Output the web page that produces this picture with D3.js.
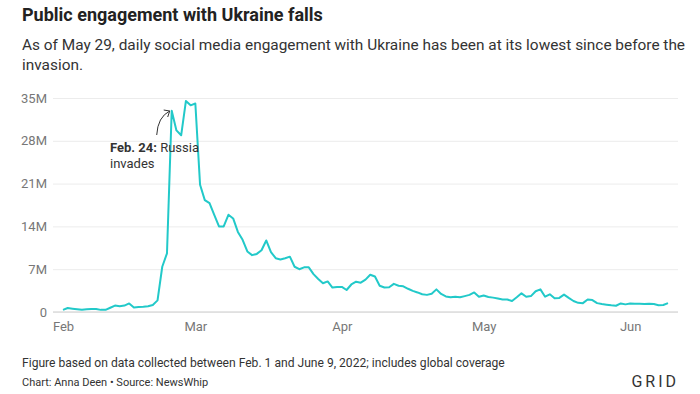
<!DOCTYPE html>
<html>
<head>
<meta charset="utf-8">
<script src="https://cdn.jsdelivr.net/npm/d3@7"></script>
<style>
  body { margin: 0; background: #fff; }
  svg { display: block; font-family: Roboto, "Noto Sans", sans-serif; }
</style>
</head>
<body>
<svg id="chart" width="700" height="394"></svg>
<script>
// daily social media engagement with Ukraine, millions, one value per day from Feb. 1
const startDate = "2022-02-01";
const engagement = [
  0.35, 0.65, 0.55, 0.45, 0.35, 0.45, 0.5, 0.5, 0.35, 0.35,      // Feb 1-10
  0.7, 1.05, 0.95, 1.05, 1.4, 0.75, 0.8, 0.85, 0.95, 1.15,       // Feb 11-20
  1.9, 7.4, 9.6, 32.9, 29.7, 28.9, 34.5, 33.8,                   // Feb 21-28
  34.1, 20.8, 18.3, 17.8, 15.9, 14.0, 14.0, 15.9, 15.3, 13.1,    // Mar 1-10
  11.8, 9.9, 9.3, 9.5, 10.1, 11.7, 9.8, 8.8, 8.6, 8.8,           // Mar 11-20
  9.05, 7.4, 7.0, 7.3, 7.3, 6.2, 5.4, 4.7, 5.0, 4.0, 4.1,        // Mar 21-31
  4.1, 3.6, 4.5, 4.95, 4.8, 5.3, 6.1, 5.8, 4.3, 4.0,             // Apr 1-10
  4.05, 4.6, 4.3, 4.2, 3.8, 3.45, 3.2, 2.9, 2.8, 3.0,            // Apr 11-20
  3.7, 2.95, 2.55, 2.4, 2.5, 2.4, 2.6, 2.8, 3.2, 2.5,            // Apr 21-30
  2.7, 2.45, 2.35, 2.2, 2.05, 2.05, 1.8, 2.4, 3.05, 2.5,         // May 1-10
  2.6, 3.4, 3.7, 2.5, 2.9, 2.25, 2.3, 2.85, 2.3, 1.8,            // May 11-20
  1.5, 1.45, 2.05, 1.95, 1.45, 1.3, 1.2, 1.1, 1.02, 1.4, 1.25,   // May 21-31
  1.4, 1.35, 1.35, 1.3, 1.35, 1.3, 1.1, 1.15, 1.45               // Jun 1-9
];
const yTicks = [0, 7, 14, 21, 28, 35];
const monthTicks = ["2022-02-01", "2022-03-01", "2022-04-01", "2022-05-01", "2022-06-01"];
const annotationDate = "2022-02-24";

const parse = d3.timeParse("%Y-%m-%d");
const start = parse(startDate);
const data = engagement.map((v, i) => ({ date: d3.timeDay.offset(start, i), value: v }));

const svg = d3.select("#chart");

const x = d3.scaleTime()
  .domain(d3.extent(data, d => d.date))
  .range([63, 668]);
const y = d3.scaleLinear().domain([0, 35]).range([312, 98]);

const gridLeft = 53, gridRight = 678;

// titles
svg.append("text").attr("x", 22).attr("y", 21)
  .attr("font-size", 18).attr("font-weight", 700).attr("fill", "#222")
  .text("Public engagement with Ukraine falls");
const sub = svg.append("text").attr("x", 22).attr("y", 50)
  .attr("font-size", 15.4).attr("fill", "#333");
sub.append("tspan").attr("x", 22)
  .text("As of May 29, daily social media engagement with Ukraine has been at its lowest since before the");
sub.append("tspan").attr("x", 22).attr("dy", 20).text("invasion.");

// y axis + gridlines
const yAxis = svg.append("g")
  .attr("transform", `translate(${gridLeft},0)`)
  .call(d3.axisLeft(y).tickValues(yTicks).tickSize(-(gridRight - gridLeft)).tickPadding(6)
    .tickFormat(d => d === 0 ? "0" : d + "M"));
yAxis.select(".domain").remove();
yAxis.selectAll(".tick line").attr("stroke", "#ececec");
yAxis.selectAll(".tick text").attr("font-size", 13).attr("fill", "#777").attr("font-family", "Roboto");

// baseline
svg.append("line")
  .attr("x1", gridLeft).attr("x2", gridRight)
  .attr("y1", y(0)).attr("y2", y(0))
  .attr("stroke", "#dcdcdc").attr("stroke-width", 1.5);

// x axis
const xAxis = svg.append("g")
  .attr("transform", `translate(0,${y(0)})`)
  .call(d3.axisBottom(x).tickValues(monthTicks.map(parse)).tickSize(0).tickPadding(10)
    .tickFormat(d3.timeFormat("%b")));
xAxis.select(".domain").remove();
xAxis.selectAll(".tick text").attr("font-size", 13).attr("fill", "#777").attr("font-family", "Roboto");

// line
svg.append("path")
  .datum(data)
  .attr("fill", "none")
  .attr("stroke", "#22c9c9")
  .attr("stroke-width", 2)
  .attr("stroke-linejoin", "round")
  .attr("d", d3.line().x(d => x(d.date)).y(d => y(d.value)));

// annotation
const ax = x(parse(annotationDate));
const ann = svg.append("text").attr("x", 110).attr("y", 152)
  .attr("font-size", 13).attr("fill", "#333");
ann.append("tspan").attr("font-weight", 700).text("Feb. 24:");
ann.append("tspan").text(" Russia");
ann.append("tspan").attr("x", 110).attr("dy", 16).text("invades");

const tipX = ax - 2, tipY = 111;
svg.append("path")
  .attr("d", `M${tipX - 13},135 Q${tipX - 12},117 ${tipX},${tipY}`)
  .attr("fill", "none").attr("stroke", "#333").attr("stroke-width", 1);
svg.append("path")
  .attr("d", `M${tipX - 6},${tipY - 1} L${tipX},${tipY} L${tipX - 2},${tipY + 6}`)
  .attr("fill", "none").attr("stroke", "#333").attr("stroke-width", 1);

// footer
svg.append("text").attr("x", 22).attr("y", 367)
  .attr("font-size", 12.1).attr("fill", "#333")
  .text("Figure based on data collected between Feb. 1 and June 9, 2022; includes global coverage");
svg.append("text").attr("x", 22).attr("y", 386)
  .attr("font-size", 11).attr("fill", "#333")
  .text("Chart: Anna Deen \u2022 Source: NewsWhip");
svg.append("text").attr("x", 679).attr("y", 387)
  .attr("text-anchor", "end")
  .attr("font-size", 16).attr("letter-spacing", 3).attr("fill", "#333")
  .text("GRID");
</script>
</body>
</html>
